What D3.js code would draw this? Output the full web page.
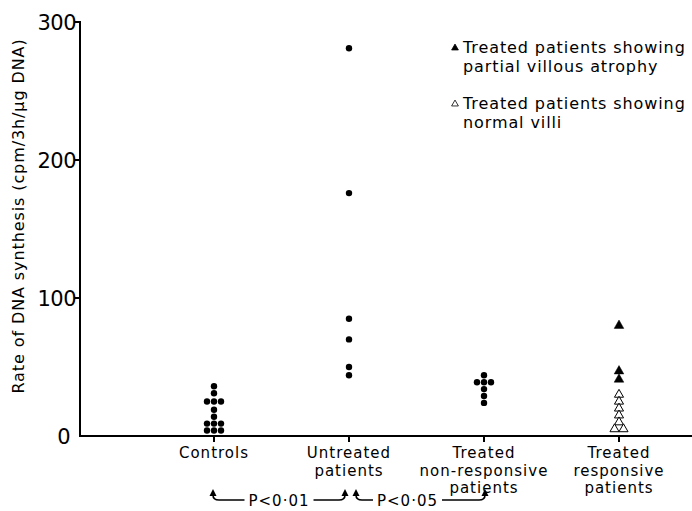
<!DOCTYPE html>
<html>
<head>
<meta charset="utf-8">
<script src="https://cdn.jsdelivr.net/npm/d3@7"></script>
<style>
body { margin:0; background:#fff; }
svg text { font-family: "DejaVu Sans", sans-serif; fill:#000; }
</style>
</head>
<body>
<svg id="chart" width="692" height="511"></svg>
<script>
// values
var categories = ["Controls", "Untreated patients", "Treated non-responsive patients", "Treated responsive patients"];
var categoryLines = [["Controls"], ["Untreated", "patients"], ["Treated", "non-responsive", "patients"], ["Treated", "responsive", "patients"]];
var controls = [36, 31, 25, 25, 25, 19, 14, 9, 9, 9, 4, 4, 4];
var untreated = [281, 176, 85, 70, 50, 44];
var nonResponsive = [44, 39, 39, 39, 34, 29, 24];
var partialAtrophy = [80, 47, 41];
var normalVilli = [30, 25, 20, 15, 10, 5, 5];
var yTicks = [0, 100, 200, 300];
var pValues = ["P<0·01", "P<0·05"];

var svg = d3.select("#chart");
var x = d3.scalePoint().domain(categories).range([214, 619]);
var y = d3.scaleLinear().domain([0, 300]).range([436, 22]);
var step = 7;

// axes
svg.append("line").attr("x1", 80).attr("x2", 80).attr("y1", y(300) - 1).attr("y2", y(0))
	.attr("stroke", "#000").attr("stroke-width", 2);
svg.append("line").attr("x1", 79).attr("x2", 692).attr("y1", y(0)).attr("y2", y(0))
	.attr("stroke", "#000").attr("stroke-width", 2);
yTicks.forEach(function(t){
	if(t > 0){
		svg.append("line").attr("x1", 74).attr("x2", 80).attr("y1", y(t)).attr("y2", y(t))
			.attr("stroke", "#000").attr("stroke-width", 2);
	}
	svg.append("text").attr("x", t == 0 ? 70 : 76).attr("y", y(t) + 8)
		.attr("text-anchor", "end").style("font-size", "21px").style("letter-spacing", "-0.5px").text(t);
});
categories.forEach(function(c, i){
	svg.append("line").attr("x1", x(c)).attr("x2", x(c)).attr("y1", y(0)).attr("y2", y(0) + 6)
		.attr("stroke", "#000").attr("stroke-width", 2);
	categoryLines[i].forEach(function(l, j){
		svg.append("text").attr("x", x(c)).attr("y", 458 + j * 17.5)
			.attr("text-anchor", "middle").style("font-size", "15px").style("letter-spacing", "1px").text(l);
	});
});

svg.append("text").attr("transform", "translate(24,216) rotate(-90)")
	.attr("text-anchor", "middle").style("font-size", "16px").style("letter-spacing", "0.9px")
	.text("Rate of DNA synthesis  (cpm/3h/\u03bcg DNA)");

// spread equal values sideways
function spread(vals){
	var counts = {};
	vals.forEach(function(v){ counts[v] = (counts[v] || 0) + 1; });
	var seen = {};
	return vals.map(function(v){
		seen[v] = (seen[v] || 0);
		var k = seen[v]++;
		return {v: v, off: (k - (counts[v] - 1) / 2)};
	});
}

function dots(vals, cat){
	svg.append("g").selectAll("circle").data(spread(vals)).enter().append("circle")
		.attr("cx", function(d){ return x(cat) + d.off * step; })
		.attr("cy", function(d){ return y(d.v); })
		.attr("r", 3.2).attr("fill", "#000");
}
dots(controls, categories[0]);
dots(untreated, categories[1]);
dots(nonResponsive, categories[2]);

var tri = d3.symbol().type(d3.symbolTriangle);
function tris(vals, cat, filled, size){
	svg.append("g").selectAll("path").data(spread(vals)).enter().append("path")
		.attr("d", tri.size(size))
		.attr("transform", function(d){ return "translate(" + (x(cat) + d.off * 9) + "," + y(d.v) + ")"; })
		.attr("fill", filled ? "#000" : "#fff")
		.attr("stroke", "#000").attr("stroke-width", filled ? 0.5 : 1);
}
tris(normalVilli, categories[3], false, 36);
tris(partialAtrophy, categories[3], true, 40);

// legend
var legend = [
	{filled: true, lines: ["Treated patients showing", "partial villous atrophy"], y: 53},
	{filled: false, lines: ["Treated patients showing", "normal villi"], y: 109}
];
legend.forEach(function(l){
	svg.append("path").attr("d", d3.symbol().type(d3.symbolTriangle).size(20)())
		.attr("transform", "translate(455," + (l.y - 5) + ")")
		.attr("fill", l.filled ? "#000" : "#fff").attr("stroke", "#000").attr("stroke-width", 0.8);
	l.lines.forEach(function(t, j){
		svg.append("text").attr("x", 463).attr("y", l.y + j * 19)
			.style("font-size", "16px").style("letter-spacing", "0.9px").text(t);
	});
});

// significance brackets
var brackets = [
	{from: categories[0], to: categories[1], label: pValues[0], d1: -1, d2: -4, shift: 0},
	{from: categories[1], to: categories[2], label: pValues[1], d1: 7, d2: 1, shift: -13}
];
var by = 500;
brackets.forEach(function(b){
	var x1 = x(b.from) + b.d1, x2 = x(b.to) + b.d2;
	var mid = (x1 + x2) / 2 + b.shift;
	var t = svg.append("text").attr("x", mid).attr("y", by + 5.5)
		.attr("text-anchor", "middle").style("font-size", "15px").style("letter-spacing", "1px").text(b.label);
	var w = t.node().getComputedTextLength() / 2 + 4;
	var path = "M" + (mid - w) + "," + by + " L" + (x1 + 6) + "," + by + " Q" + x1 + "," + by + " " + x1 + "," + (by - 5);
	var path2 = "M" + (mid + w) + "," + by + " L" + (x2 - 6) + "," + by + " Q" + x2 + "," + by + " " + x2 + "," + (by - 5);
	[path, path2].forEach(function(p){
		svg.append("path").attr("d", p).attr("fill", "none").attr("stroke", "#000").attr("stroke-width", 1.6);
	});
	[x1, x2].forEach(function(xx){
		svg.append("path").attr("d", "M" + (xx - 3.5) + "," + (by - 4) + " L" + xx + "," + (by - 11) + " L" + (xx + 3.5) + "," + (by - 4) + " Z")
			.attr("fill", "#000");
	});
});
</script>
</body>
</html>
